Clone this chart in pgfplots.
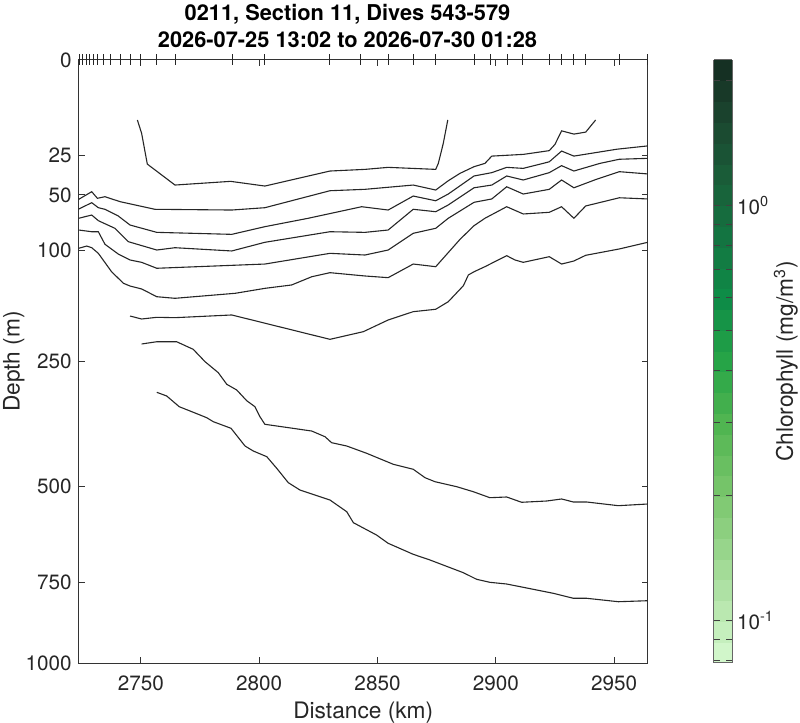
\documentclass[border=0pt]{standalone}
\usepackage{pgfplots}
\pgfplotsset{compat=1.18}
\usepackage{fontspec}
\setmainfont{TeX Gyre Heros}
\begin{document}
\begin{tikzpicture}
\pgfplotsset{
  colormap={algae}{
    rgb255(0cm)=(215,249,208); rgb255(1cm)=(181,229,171); rgb255(2cm)=(148,211,135);
    rgb255(3cm)=(115,195,103); rgb255(4cm)=(79,180,80); rgb255(5cm)=(38,164,71);
    rgb255(6cm)=(14,141,71); rgb255(7cm)=(19,118,66); rgb255(8cm)=(26,94,57);
    rgb255(9cm)=(27,70,47); rgb255(10cm)=(20,43,32)},
  contour/.style={black!85, line width=0.55pt, mark=none, solid}
}
\begin{axis}[
  at={(39.35pt,30pt)}, anchor=south west,
  scale only axis, width=284.5pt, height=301.5pt,
  xmin=2723.7, xmax=2964.2, ymin=0, ymax=1000,
  y dir=reverse,
  y coord trafo/.code={\pgfmathparse{sqrt(#1)}},
  y coord inv trafo/.code={\pgfmathparse{(#1)^2}},
  xtick={2750,2800,2850,2900,2950},
  ytick={0,25,50,100,250,500,750,1000},
  yticklabels={0,25,50,100,250,500,750,1000},
  tick align=inside, tick pos=both, major tick length=3pt,
  /pgf/number format/assume math mode=true,
  /pgf/number format/set thousands separator={},
  ticklabel style={font=\fontsize{10.35}{12}\selectfont, text=black!85},
  xticklabel style={anchor=base, yshift=-13.85pt},
  label style={font=\fontsize{11.35}{13}\selectfont, text=black!85},
  xlabel={Distance (km)}, ylabel={Depth (m)},
  xlabel style={at={(axis description cs:0.5,-0.0917)}, anchor=base},
  ylabel style={at={(axis description cs:-0.104,0.5)}, anchor=base},
  axis line style={black!80, line width=0.5pt},
  tick style={black!80, line width=0.5pt},
  clip=false,
  colormap name=algae,
  colorbar sampled,
  point meta min=-1.1025, point meta max=0.3505,
  colorbar style={
    at={(parent axis.north east)}, anchor=north west, xshift=24.5pt,
    width=9.15pt,
    samples=30,
    ytick={-1,0}, yticklabels={10\textsuperscript{-1},10\textsuperscript{0}},
    minor ytick={-1.0969,-1.0458,-0.699,-0.5229,-0.3979,-0.3010,-0.2218,-0.1549,-0.0969,-0.0458,0.3010},
    tick align=inside, ytick pos=both, yticklabel pos=right,
    major tick length=3pt, minor tick length=3pt,
    tick style={black!75, line width=0.5pt},
    axis line style={black!60, line width=0.5pt},
    yticklabel style={font=\fontsize{10.35}{12}\selectfont, text=black!85, xshift=-1pt},
  },
]
% contour lines
\addplot[contour] coordinates {(2748.5,9.9) (2750.3,14.8) (2752.7,29.8) (2764.4,43.0) (2787.9,40.5) (2802.4,43.7) (2829.9,33.9) (2844.7,32.9) (2854.5,31.7) (2874.6,32.9) (2875.7,29.4) (2877.8,19.1) (2879.7,9.9)};
\addplot[contour] coordinates {(2723.7,53.4) (2729.2,47.7) (2731.6,52.6) (2734.8,51.4) (2741.2,55.2) (2755.9,61.3) (2788.4,61.9) (2802.4,60.0) (2829.9,47.0) (2844.7,46.0) (2865.1,43.0) (2874.6,46.5) (2879.9,40.1) (2884.9,35.3) (2890.8,31.3) (2895.4,29.4) (2898.3,25.4) (2911.6,24.5) (2922.6,22.6) (2925.0,19.6) (2927.8,13.8) (2933.0,15.1) (2938.0,14.3) (2942.2,9.9)};
\addplot[contour] coordinates {(2723.7,61.1) (2729.2,56.0) (2732.0,60.0) (2734.8,61.3) (2740.4,66.9) (2745.4,74.9) (2756.7,81.7) (2788.4,83.6) (2802.4,76.4) (2820.7,68.9) (2843.3,59.2) (2854.5,61.9) (2865.1,50.9) (2874.6,54.5) (2879.9,49.4) (2890.8,37.0) (2898.3,34.9) (2904.6,31.7) (2911.6,32.3) (2922.6,28.5) (2927.8,22.8) (2933.0,25.4) (2951.1,21.9) (2964.2,20.3)};
\addplot[contour] coordinates {(2723.7,68.9) (2726.4,67.5) (2729.2,66.1) (2732.0,71.0) (2739.0,77.9) (2744.7,90.8) (2756.7,99.3) (2764.4,96.9) (2788.4,100.3) (2802.4,91.4) (2829.9,81.1) (2844.7,81.7) (2854.5,79.5) (2865.1,61.3) (2874.6,63.3) (2879.9,57.8) (2890.8,44.9) (2898.3,43.0) (2904.6,37.0) (2911.6,39.6) (2922.6,34.9) (2927.8,30.7) (2933.0,33.9) (2944.0,29.4) (2952.2,27.1) (2964.2,26.6)};
\addplot[contour] coordinates {(2723.7,79.5) (2729.2,81.1) (2732.0,81.1) (2734.8,93.4) (2740.4,103.5) (2745.4,110.0) (2750.3,112.6) (2756.7,119.3) (2802.4,114.5) (2829.9,102.8) (2844.7,104.6) (2854.5,99.3) (2865.1,82.6) (2874.6,77.9) (2879.9,68.9) (2890.8,55.7) (2898.3,53.1) (2904.6,44.2) (2911.6,49.4) (2922.6,46.0) (2927.8,39.6) (2933.0,44.9) (2942.6,39.1) (2952.2,34.3) (2964.2,35.7)};
\addplot[contour] coordinates {(2723.7,97.5) (2727.1,95.2) (2729.2,96.9) (2732.0,102.8) (2737.6,123.3) (2742.6,137.1) (2745.4,140.5) (2750.3,144.2) (2756.7,154.1) (2764.4,156.2) (2789.8,149.7) (2802.4,143.4) (2813.7,139.2) (2822.2,129.2) (2829.9,124.4) (2844.7,128.3) (2854.5,130.3) (2865.1,114.5) (2874.6,117.5) (2884.9,88.4) (2890.8,75.5) (2895.4,68.9) (2904.6,59.2) (2911.6,65.2) (2922.6,63.8) (2927.8,59.2) (2933.0,68.9) (2938.0,58.6) (2952.2,52.2) (2964.2,53.1)};
\addplot[contour] coordinates {(2745.4,180.3) (2750.3,184.5) (2756.7,182.1) (2764.4,182.6) (2788.4,178.8) (2829.9,214.6) (2844.0,203.0) (2854.5,185.9) (2865.1,174.2) (2874.6,170.9) (2879.9,160.7) (2886.3,140.1) (2888.4,127.1) (2890.8,123.3) (2895.4,117.5) (2904.6,105.3) (2908.1,110.0) (2911.6,112.6) (2922.6,106.4) (2927.8,114.5) (2933.0,111.1) (2938.0,104.9) (2952.2,98.2) (2964.2,91.4)};
\addplot[contour] coordinates {(2750.3,221.8) (2756.7,218.3) (2765.1,218.3) (2772.1,230.2) (2777.1,250.3) (2782.7,268.9) (2786.3,289.3) (2790.5,299.5) (2794.7,319.2) (2798.2,330.6) (2800.3,349.9) (2802.4,365.0) (2822.2,378.6) (2827.8,390.3) (2830.6,402.8) (2837.0,409.8) (2845.4,425.4) (2856.7,449.6) (2865.1,460.7) (2870.1,479.9) (2874.3,489.1) (2883.5,500.8) (2890.5,512.6) (2897.5,526.9) (2904.6,525.2) (2910.9,538.0) (2921.5,534.9) (2927.8,530.0) (2932.8,537.3) (2938.4,537.3) (2951.8,546.3) (2964.2,542.2)};
\addplot[contour] coordinates {(2756.7,303.7) (2760.9,310.5) (2766.2,330.6) (2774.3,345.3) (2777.8,351.9) (2780.6,359.8) (2788.1,373.1) (2794.0,409.8) (2797.5,420.5) (2803.2,432.8) (2807.4,458.5) (2812.3,491.4) (2817.2,508.5) (2829.9,532.5) (2837.0,561.2) (2839.8,588.8) (2849.6,620.6) (2854.5,642.4) (2865.1,672.0) (2872.2,687.6) (2886.3,723.0) (2891.9,741.7) (2897.5,750.3) (2904.6,755.2) (2911.6,764.7) (2924.3,782.2) (2932.8,796.9) (2938.4,796.9) (2951.8,807.1) (2964.2,804.1)};
% dive positions
\addplot[black!85, only marks, mark=|, mark size=2.75pt, mark options={line width=0.5pt, solid}] coordinates {
(2723.95,0) (2725.4,0) (2726.8,0) (2728.2,0) (2729.9,0) (2731.7,0) (2734.1,0) (2737.3,0) (2741.2,0) (2745.4,0) (2749.9,0) (2756.7,0) (2764.7,0) (2788.5,0) (2802.1,0) (2829.9,0) (2842.9,0) (2854.5,0) (2865.1,0) (2874.3,0) (2890.8,0) (2897.8,0) (2904.9,0) (2911.2,0) (2922.6,0) (2927.8,0) (2933.0,0) (2938.0,0) (2952.1,0) (2964.2,0)};
\end{axis}
\node[anchor=base, font=\bfseries\fontsize{10.9}{13}\selectfont] at (173.75pt,351.15pt) {0211, Section 11, Dives 543-579};
\node[anchor=base, font=\bfseries\fontsize{10.9}{13}\selectfont] at (173.75pt,337.65pt) {2026-07-25 13:02 to 2026-07-30 01:28};
\node[rotate=90, anchor=base, font=\fontsize{11.35}{13}\selectfont, text=black!85] at (396.5pt,180.75pt) {Chlorophyll (mg/m\textsuperscript{3})};
\pgfresetboundingbox
\path[use as bounding box] (0pt,0pt) rectangle (400pt,361.5pt);
\end{tikzpicture}
\end{document}
